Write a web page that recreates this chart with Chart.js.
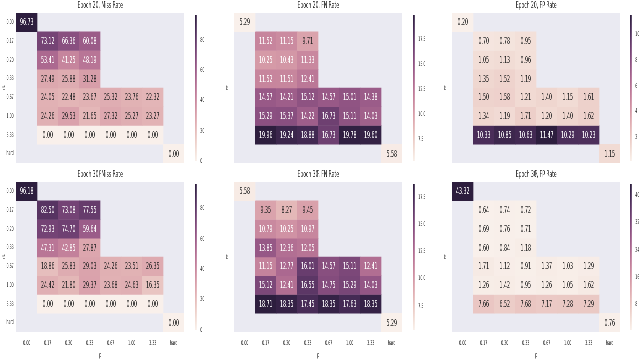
<!DOCTYPE html>
<html><head><meta charset="utf-8">
<script src="https://cdn.jsdelivr.net/npm/chart.js@4"></script>
<style>
html,body{margin:0;padding:0;background:#fff;overflow:hidden;width:640px;height:359px;}
#wrap{position:absolute;left:0;top:0;width:1280px;height:359px;transform:scaleX(0.5);transform-origin:0 0;}
#wrap canvas{position:absolute;}
</style></head><body><div id="wrap"></div>
<script>
// ---- data ----
const xLabels = ["0.00","0.17","0.20","0.33","0.67","1.00","3.33","hard"];
const yLabels = ["0.00","0.17","0.20","0.33","0.67","1.00","3.33","hard"];
const xTitle = "p";
const yTitle = "rt";
const titles = ["Epoch 20, Miss Rate","Epoch 20, FN Rate","Epoch 20, FP Rate",
                "Epoch 30, Miss Rate","Epoch 30, FN Rate","Epoch 30, FP Rate"];
const _ = null;
const miss20 = [
  [96.73,_,_,_,_,_,_,_],
  [_,73.12,66.36,60.08,_,_,_,_],
  [_,53.41,41.25,48.19,_,_,_,_],
  [_,27.49,25.88,31.28,_,_,_,_],
  [_,24.05,22.48,23.67,25.32,23.76,22.32,_],
  [_,24.26,29.53,21.65,27.32,25.27,23.27,_],
  [_,0.00,0.00,0.00,0.00,0.00,0.00,_],
  [_,_,_,_,_,_,_,0.00]];
const fn20 = [
  [5.29,_,_,_,_,_,_,_],
  [_,11.52,11.15,9.71,_,_,_,_],
  [_,10.25,10.43,11.33,_,_,_,_],
  [_,11.52,11.51,12.41,_,_,_,_],
  [_,14.57,14.21,15.12,14.57,15.01,14.38,_],
  [_,15.29,15.37,14.22,16.73,15.11,14.03,_],
  [_,19.96,19.24,18.88,16.73,19.78,19.60,_],
  [_,_,_,_,_,_,_,5.58]];
const fp20 = [
  [0.20,_,_,_,_,_,_,_],
  [_,0.70,0.78,0.95,_,_,_,_],
  [_,1.05,1.13,0.96,_,_,_,_],
  [_,1.35,1.52,1.19,_,_,_,_],
  [_,1.50,1.58,1.21,1.40,1.15,1.61,_],
  [_,1.34,1.19,1.71,1.20,1.40,1.62,_],
  [_,10.33,10.85,10.63,11.47,10.29,10.23,_],
  [_,_,_,_,_,_,_,1.15]];
const miss30 = [
  [96.18,_,_,_,_,_,_,_],
  [_,82.50,73.08,77.55,_,_,_,_],
  [_,72.93,74.70,59.64,_,_,_,_],
  [_,47.31,42.85,27.87,_,_,_,_],
  [_,18.86,25.83,29.03,24.26,23.51,26.35,_],
  [_,24.42,21.80,29.37,23.68,24.63,16.35,_],
  [_,0.00,0.00,0.00,0.00,0.00,0.00,_],
  [_,_,_,_,_,_,_,0.00]];
const fn30 = [
  [5.58,_,_,_,_,_,_,_],
  [_,9.35,8.27,9.45,_,_,_,_],
  [_,10.79,10.25,10.97,_,_,_,_],
  [_,13.85,12.36,12.05,_,_,_,_],
  [_,11.15,12.77,16.01,14.57,15.11,12.41,_],
  [_,15.12,12.41,16.55,14.75,15.29,14.03,_],
  [_,18.71,18.35,17.45,18.35,17.63,18.35,_],
  [_,_,_,_,_,_,_,5.29]];
const fp30 = [
  [43.32,_,_,_,_,_,_,_],
  [_,0.64,0.74,0.72,_,_,_,_],
  [_,0.69,0.76,0.71,_,_,_,_],
  [_,0.60,0.84,1.18,_,_,_,_],
  [_,1.71,1.12,0.91,1.37,1.03,1.29,_],
  [_,1.26,1.42,0.95,1.26,1.05,1.62,_],
  [_,7.66,6.52,7.68,7.17,7.28,7.29,_],
  [_,_,_,_,_,_,_,0.76]];
const cbTicksMiss = ["0","20","40","60","80"];
const cbTicksFN = ["7.5","10.0","12.5","15.0","17.5"];
const cbTicksFP20 = ["2","4","6","8","10"];
const cbTicksFP30 = ["8","16","24","32","40"];

// ---- colours ----
const F = "DejaVu Sans";
const TXT = "#262626";
function cubehelix(x){
  const s=0, r=0.4, h=0.8;
  const a = h*x*(1-x)/2, phi = 2*Math.PI*(s/3 + r*x);
  const c=Math.cos(phi), sn=Math.sin(phi);
  return [x + a*(-0.14861*c + 1.78277*sn), x + a*(-0.29227*c - 0.90649*sn), x + a*(1.97294*c)]
    .map(v=>Math.min(1,Math.max(0,v)));
}
const LIGHT=0.95, DARK=0.15;
function cmap(t){ t=Math.min(1,Math.max(0,t)); return cubehelix(LIGHT+(DARK-LIGHT)*t); }
function css(c){ return `rgb(${c.map(v=>Math.round(v*255)).join(',')})`; }
function lum(c){ const l=c.map(v=> v<=0.03928 ? v/12.92 : Math.pow((v+0.055)/1.055,2.4)); return 0.2126*l[0]+0.7152*l[1]+0.0722*l[2]; }

const wrap = document.getElementById('wrap');
function mkCanvas(left, top, w, h){
  const c=document.createElement('canvas'); c.width=w; c.height=h;
  c.style.left=left+'px'; c.style.top=top+'px'; c.style.width=w+'px'; c.style.height=h+'px';
  wrap.appendChild(c); return c;
}

function makeHeat(p){
  const {values, title, heatLeft, top, h, xH, yW, showYT, showXT, yTitlePad, cbX, cbTicks} = p;
  const flat = values.flat().filter(v=>v!==null);
  const vmin=Math.min(...flat), vmax=Math.max(...flat);
  const W = 336;
  const canvas = mkCanvas(heatLeft-yW, top, yW+W, h);
  const datasets = yLabels.map((yl,r)=>({
    label: yl,
    data: xLabels.map((xl,c)=> values[r][c]===null ? null : [r, r+1]),
    backgroundColor: xLabels.map((xl,c)=> values[r][c]===null ? 'rgba(0,0,0,0)' : css(cmap((values[r][c]-vmin)/(vmax-vmin)))),
    borderWidth:0, grouped:false, barPercentage:1, categoryPercentage:1
  }));
  const deco = {
    id:'deco',
    beforeDatasetsDraw(chart){
      const {ctx, chartArea:a} = chart;
      ctx.save(); ctx.fillStyle='#eaeaf2'; ctx.fillRect(a.left,a.top,a.right-a.left,a.bottom-a.top); ctx.restore();
    },
    afterDatasetsDraw(chart){
      const {ctx, chartArea:a} = chart;
      ctx.save();
      ctx.textAlign='center'; ctx.textBaseline='middle';
      ctx.font = `9.5px "${F}"`;
      chart.data.datasets.forEach((ds,r)=>{
        chart.getDatasetMeta(r).data.forEach((el,c)=>{
          const v = values[r][c]; if(v===null) return;
          const col = cmap((v-vmin)/(vmax-vmin));
          ctx.fillStyle = lum(col) > 0.408 ? TXT : '#ffffff';
          const pr = el.getProps(['x','y','base'], true);
          ctx.fillText(v.toFixed(2), pr.x, (pr.y+pr.base)/2 + 0.5);
        });
      });
      ctx.fillStyle = TXT; ctx.font = `9px "${F}"`;
      ctx.fillText(title, (a.left+a.right)/2, a.top-7);
      ctx.restore();
    }
  };
  new Chart(canvas, {
    type:'bar',
    data:{labels:xLabels, datasets},
    options:{
      responsive:false, animation:false, devicePixelRatio:1,
      layout:{padding:{top:13, left:0, right:0, bottom:0}},
      plugins:{legend:{display:false}, tooltip:{enabled:false}, title:{display:false}},
      scales:{
        x:{type:'category', offset:true,
           grid:{display:false, drawTicks:false}, border:{display:false},
           ticks:{display:showXT, color:TXT, font:{family:F,size:6.5}, padding:7, maxRotation:0, autoSkip:false},
           title:{display:true, text:xTitle, color:TXT, font:{family:F,size:7}, padding:{top:0,bottom: showXT?0:4}},
           afterFit:s=>{ s.height = xH; }},
        y:{type:'linear', min:0, max:8, reverse:true,
           grid:{display:false, drawTicks:false}, border:{display:false},
           afterBuildTicks:s=>{ s.ticks = yLabels.map((l,i)=>({value:i+0.5})); },
           ticks:{display:showYT, color:TXT, font:{family:F,size:6.5}, padding:5, autoSkip:false,
                  callback:(v,i)=>yLabels[i]},
           title:{display:true, text:yTitle, color:TXT, font:{family:F,size:7}, padding:{top:yTitlePad,bottom:0}},
           afterFit:s=>{ s.width = yW; }}
      }
    },
    plugins:[deco]
  });

  // colour bar
  const cbW = 7, lab = 34, pad = 6;
  const cbCanvas = mkCanvas(cbX, top+13-pad, cbW+lab, 150+2*pad);
  const tickVals = cbTicks.map(Number);
  new Chart(cbCanvas, {
    type:'bar',
    data:{labels:[''], datasets:[{data:[[vmin,vmax]], borderWidth:0, barPercentage:1, categoryPercentage:1,
      backgroundColor:(ctx)=>{
        const a = ctx.chart.chartArea; if(!a) return '#888';
        const g = ctx.chart.ctx.createLinearGradient(0,a.bottom,0,a.top);
        for(let i=0;i<=32;i++) g.addColorStop(i/32, css(cmap(i/32)));
        return g;
      }}]},
    options:{
      responsive:false, animation:false, devicePixelRatio:1,
      layout:{padding:{top:pad,bottom:pad,left:0,right:0}},
      plugins:{legend:{display:false}, tooltip:{enabled:false}},
      scales:{
        x:{display:false, offset:false},
        y:{type:'linear', position:'right', min:vmin, max:vmax,
           grid:{display:false, drawTicks:false}, border:{display:false},
           afterBuildTicks:s=>{ s.ticks = tickVals.map(v=>({value:v})); },
           ticks:{color:TXT, font:{family:F,size:6.5}, padding:4, autoSkip:false, callback:(v,i)=>cbTicks[i]},
           afterFit:s=>{ s.width = lab; }}
      }
    }
  });
}

const rows = [{top:0,h:180,xH:17,showXT:false},{top:169,h:190,xH:27,showXT:true}];
const cols = [{heatLeft:32,yW:32,showYT:true,yTitlePad:2.5,cbX:389},
              {heatLeft:468,yW:24,showYT:false,yTitlePad:6,cbX:825},
              {heatLeft:904,yW:24,showYT:false,yTitlePad:6,cbX:1259}];
const vals = [miss20, fn20, fp20, miss30, fn30, fp30];
const cbs = [cbTicksMiss, cbTicksFN, cbTicksFP20, cbTicksMiss, cbTicksFN, cbTicksFP30];
for(let i=0;i<6;i++){
  const R = rows[Math.floor(i/3)], C = cols[i%3];
  makeHeat(Object.assign({values:vals[i], title:titles[i], cbTicks:cbs[i]}, R, C));
}
</script></body></html>
